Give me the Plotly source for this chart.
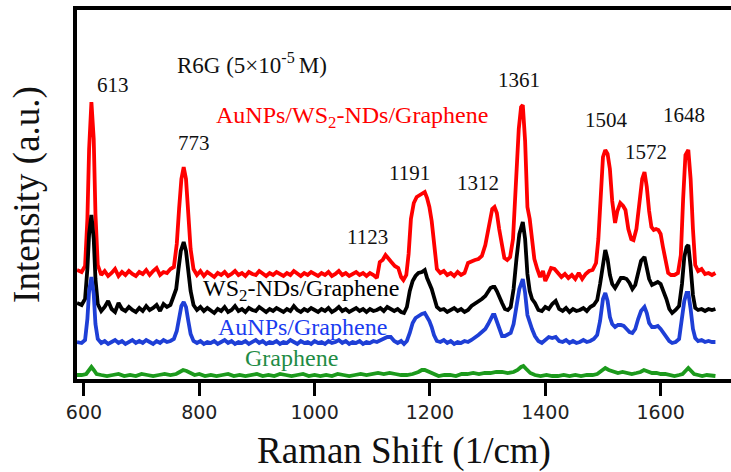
import plotly.graph_objects as go

# (Raman shift in cm^-1, intensity in a.u.) for each substrate
red_pts = [
    (588, 109), (596, 107), (602, 113), (606, 160), (609, 230), (613, 277), (617, 240), (620, 165), (624, 114),
    (630, 104), (636, 108), (642, 103), (648, 106), (654, 110), (660, 103), (666, 107), (672, 104), (678, 108),
    (684, 105), (690, 103), (696, 107), (702, 105), (708, 109), (714, 104), (720, 108), (726, 111), (732, 104),
    (738, 107), (744, 106), (750, 110), (756, 112), (761, 135), (765, 170), (769, 200), (773, 212), (777, 200),
    (781, 165), (785, 130), (790, 110), (796, 104), (802, 108), (808, 103), (814, 107), (820, 105), (826, 102),
    (832, 106), (838, 104), (844, 107), (850, 103), (856, 105), (862, 108), (868, 104), (874, 106), (880, 103),
    (886, 107), (892, 105), (898, 104), (904, 108), (910, 105), (916, 103), (922, 106), (928, 104), (934, 107),
    (940, 105), (946, 103), (952, 106), (958, 104), (964, 108), (970, 105), (976, 103), (982, 106), (988, 104),
    (994, 107), (1000, 105), (1006, 103), (1012, 106), (1018, 104), (1024, 107), (1030, 103), (1036, 105),
    (1042, 108), (1048, 104), (1054, 106), (1060, 103), (1066, 105), (1072, 107), (1078, 104), (1084, 106),
    (1090, 103), (1096, 106), (1102, 104), (1108, 101), (1113, 117), (1118, 119), (1123, 124), (1128, 121),
    (1133, 117), (1139, 113), (1145, 111), (1150, 102), (1154, 99), (1159, 104), (1163, 125), (1167, 160),
    (1172, 176), (1177, 182), (1182, 184), (1186, 186), (1191, 187), (1195, 181), (1199, 172), (1203, 158),
    (1207, 135), (1212, 110), (1218, 106), (1224, 108), (1230, 104), (1236, 106), (1242, 103), (1248, 107),
    (1254, 104), (1260, 106), (1266, 116), (1272, 118), (1278, 119), (1284, 120), (1290, 123), (1296, 134),
    (1301, 150), (1305, 164), (1308, 170), (1312, 172), (1316, 166), (1320, 150), (1324, 138), (1329, 121),
    (1334, 119), (1339, 122), (1344, 140), (1349, 200), (1354, 250), (1358, 272), (1361, 274), (1365, 238),
    (1369, 172), (1373, 160), (1377, 140), (1381, 120), (1386, 110), (1391, 102), (1396, 108), (1400, 98),
    (1405, 104), (1410, 111), (1416, 110), (1422, 106), (1428, 102), (1434, 105), (1440, 101), (1446, 104),
    (1452, 100), (1458, 106), (1464, 100), (1470, 105), (1476, 108), (1482, 109), (1488, 116), (1492, 140),
    (1496, 190), (1500, 222), (1504, 229), (1508, 225), (1512, 210), (1516, 178), (1521, 156), (1525, 168),
    (1530, 176), (1535, 173), (1539, 169), (1544, 150), (1549, 140), (1553, 139), (1558, 150), (1563, 178),
    (1568, 200), (1572, 207), (1576, 192), (1580, 168), (1584, 152), (1588, 149), (1592, 150), (1596, 149),
    (1600, 145), (1604, 132), (1608, 118), (1613, 106), (1618, 104), (1624, 104), (1630, 106), (1635, 124),
    (1639, 180), (1643, 224), (1648, 229), (1652, 200), (1656, 150), (1660, 114), (1665, 108), (1671, 110),
    (1677, 105), (1683, 106), (1689, 104), (1695, 106),
]

black_pts = [
    (588, 76), (596, 74), (602, 80), (606, 110), (609, 145), (613, 164), (617, 140), (620, 100), (624, 75),
    (630, 68), (636, 72), (642, 78), (648, 70), (654, 67), (660, 76), (666, 70), (672, 68), (678, 72), (684, 69),
    (690, 67), (696, 71), (702, 68), (708, 73), (714, 69), (720, 71), (726, 74), (732, 68), (738, 75), (744, 72),
    (750, 74), (755, 82), (760, 90), (764, 110), (768, 128), (773, 137), (777, 128), (781, 108), (785, 88),
    (790, 74), (796, 69), (802, 72), (808, 68), (814, 71), (820, 69), (826, 66), (832, 70), (838, 68), (844, 72),
    (850, 67), (856, 69), (862, 73), (868, 68), (874, 70), (880, 67), (886, 71), (892, 69), (898, 68), (904, 72),
    (910, 69), (916, 67), (922, 70), (928, 68), (934, 71), (940, 69), (946, 67), (952, 70), (958, 68), (964, 73),
    (970, 69), (976, 67), (982, 70), (988, 68), (994, 71), (1000, 69), (1006, 67), (1012, 70), (1018, 68),
    (1024, 71), (1030, 67), (1036, 69), (1042, 72), (1048, 68), (1054, 70), (1060, 67), (1066, 69), (1072, 71),
    (1078, 68), (1084, 70), (1090, 67), (1096, 70), (1102, 68), (1108, 69), (1114, 71), (1120, 68), (1126, 72),
    (1132, 70), (1138, 68), (1144, 70), (1150, 67), (1155, 66), (1160, 72), (1165, 88), (1170, 98), (1175, 103),
    (1180, 106), (1186, 107), (1191, 109), (1195, 101), (1199, 96), (1203, 90), (1207, 82), (1212, 72),
    (1218, 69), (1224, 70), (1230, 67), (1236, 69), (1242, 71), (1248, 68), (1254, 70), (1260, 67), (1266, 69),
    (1272, 73), (1278, 75), (1284, 78), (1290, 80), (1296, 83), (1301, 88), (1305, 91), (1309, 92), (1312, 92),
    (1316, 88), (1320, 82), (1325, 76), (1330, 70), (1335, 69), (1340, 72), (1345, 90), (1350, 120), (1355, 145),
    (1361, 157), (1365, 140), (1369, 105), (1373, 88), (1377, 80), (1382, 76), (1388, 69), (1394, 68),
    (1400, 72), (1406, 70), (1412, 75), (1418, 78), (1424, 70), (1430, 68), (1436, 71), (1442, 67), (1448, 70),
    (1454, 68), (1460, 69), (1466, 71), (1472, 68), (1478, 72), (1484, 74), (1490, 79), (1495, 95), (1500, 118),
    (1504, 129), (1508, 120), (1512, 104), (1516, 95), (1521, 91), (1526, 96), (1531, 101), (1536, 101),
    (1541, 100), (1546, 96), (1551, 90), (1556, 94), (1561, 108), (1566, 118), (1572, 122), (1576, 112),
    (1580, 100), (1585, 94), (1590, 95), (1595, 97), (1600, 95), (1605, 88), (1610, 80), (1615, 70), (1620, 66),
    (1626, 69), (1632, 73), (1637, 95), (1641, 122), (1645, 132), (1648, 134), (1652, 112), (1656, 84),
    (1660, 71), (1665, 69), (1671, 70), (1677, 68), (1683, 70), (1689, 69), (1695, 70),
]

blue_pts = [
    (588, 37), (596, 36), (602, 39), (606, 60), (609, 88), (613, 102), (617, 85), (620, 55), (624, 40),
    (630, 36), (636, 38), (642, 35), (648, 37), (654, 39), (660, 36), (666, 38), (672, 35), (678, 37), (684, 39),
    (690, 36), (696, 38), (702, 36), (708, 39), (714, 37), (720, 35), (726, 38), (732, 36), (738, 39), (744, 37),
    (750, 38), (756, 40), (761, 48), (765, 62), (769, 73), (773, 77), (777, 72), (781, 58), (785, 45), (790, 38),
    (796, 36), (802, 38), (808, 35), (814, 37), (820, 36), (826, 38), (832, 35), (838, 37), (844, 39), (850, 36),
    (856, 38), (862, 35), (868, 37), (874, 36), (880, 38), (886, 35), (892, 37), (898, 39), (904, 36), (910, 38),
    (916, 35), (922, 37), (928, 36), (934, 38), (940, 35), (946, 37), (952, 36), (958, 39), (964, 37), (970, 35),
    (976, 38), (982, 36), (988, 37), (994, 35), (1000, 38), (1006, 36), (1012, 37), (1018, 35), (1024, 38),
    (1030, 36), (1036, 37), (1042, 39), (1048, 36), (1054, 38), (1060, 35), (1066, 37), (1072, 36), (1078, 38),
    (1084, 35), (1090, 37), (1096, 36), (1102, 38), (1108, 37), (1114, 39), (1120, 41), (1126, 42), (1132, 42),
    (1138, 38), (1144, 36), (1150, 38), (1155, 35), (1160, 38), (1165, 46), (1170, 56), (1175, 61), (1180, 63),
    (1186, 65), (1191, 66), (1195, 62), (1199, 58), (1203, 52), (1207, 44), (1212, 38), (1218, 37), (1224, 39),
    (1230, 36), (1236, 38), (1242, 35), (1248, 37), (1254, 36), (1260, 38), (1266, 37), (1272, 39), (1278, 41),
    (1284, 44), (1290, 47), (1296, 50), (1301, 55), (1305, 60), (1309, 64), (1312, 64), (1316, 58), (1320, 50),
    (1325, 43), (1330, 43), (1335, 45), (1340, 46), (1345, 55), (1350, 72), (1355, 90), (1361, 100), (1365, 86),
    (1369, 64), (1373, 56), (1377, 50), (1382, 43), (1388, 38), (1394, 36), (1400, 39), (1406, 42), (1412, 41),
    (1418, 42), (1424, 38), (1430, 37), (1436, 39), (1442, 36), (1448, 38), (1454, 36), (1460, 37), (1466, 39),
    (1472, 37), (1478, 38), (1484, 40), (1490, 44), (1495, 58), (1500, 80), (1504, 86), (1508, 78), (1512, 62),
    (1516, 55), (1521, 52), (1526, 54), (1531, 54), (1536, 53), (1541, 50), (1546, 47), (1551, 46), (1556, 50),
    (1561, 60), (1566, 68), (1572, 72), (1576, 66), (1580, 56), (1585, 52), (1590, 52), (1595, 53), (1600, 50),
    (1605, 46), (1610, 42), (1615, 38), (1620, 36), (1626, 37), (1632, 40), (1637, 58), (1641, 78), (1645, 86),
    (1648, 86), (1652, 70), (1656, 50), (1660, 41), (1665, 38), (1671, 39), (1677, 37), (1683, 38), (1689, 37),
    (1695, 37),
]

green_pts = [
    (588, 4), (596, 4), (604, 5), (609, 9), (613, 12), (617, 9), (622, 5), (630, 4), (640, 3), (650, 4),
    (660, 5), (670, 3), (680, 4), (690, 3), (700, 5), (710, 4), (720, 3), (730, 4), (740, 5), (750, 4),
    (760, 5), (766, 7), (772, 9), (778, 8), (784, 6), (792, 4), (800, 5), (810, 3), (820, 4), (830, 3),
    (840, 4), (850, 5), (860, 3), (870, 4), (880, 3), (890, 4), (900, 5), (910, 3), (920, 4), (930, 3),
    (940, 5), (950, 4), (960, 3), (970, 4), (980, 5), (990, 3), (1000, 4), (1010, 3), (1020, 4), (1030, 3),
    (1040, 5), (1050, 4), (1060, 3), (1070, 4), (1080, 5), (1090, 4), (1100, 5), (1110, 6), (1120, 5),
    (1130, 6), (1140, 5), (1150, 4), (1160, 4), (1170, 5), (1180, 7), (1186, 9), (1191, 9), (1198, 7),
    (1206, 5), (1215, 3), (1225, 4), (1235, 4), (1245, 3), (1255, 5), (1265, 5), (1275, 6), (1285, 5),
    (1295, 6), (1305, 6), (1315, 7), (1325, 7), (1335, 6), (1345, 7), (1352, 9), (1358, 12), (1362, 13),
    (1367, 10), (1374, 6), (1382, 4), (1392, 3), (1402, 4), (1412, 3), (1422, 3), (1432, 4), (1442, 3),
    (1452, 4), (1462, 3), (1472, 4), (1482, 4), (1490, 5), (1497, 8), (1504, 11), (1510, 9), (1518, 7),
    (1526, 6), (1534, 7), (1542, 6), (1550, 5), (1558, 6), (1565, 7), (1571, 9), (1577, 8), (1585, 6),
    (1593, 6), (1600, 5), (1608, 5), (1616, 4), (1624, 3), (1632, 4), (1638, 5), (1643, 8), (1648, 11),
    (1653, 8), (1658, 5), (1665, 4), (1672, 3), (1680, 4), (1688, 3), (1695, 3),
]

series = [
    ("AuNPs/WS<sub>2</sub>-NDs/Graphene", red_pts, "#ff0000"),
    ("WS<sub>2</sub>-NDs/Graphene", black_pts, "#000000"),
    ("AuNPs/Graphene", blue_pts, "#1e3fd6"),
    ("Graphene", green_pts, "#1c9a1c"),
]

# Peak assignments labelled above the top spectrum
peak_labels = ["613", "773", "1123", "1191", "1312", "1361", "1504", "1572", "1648"]
peak_label_px = [(113, 85), (194, 143), (367, 237), (410, 173), (478, 183),
                 (519, 80), (606, 120), (646, 152), (684, 115)]

# Series captions placed next to their spectra
caption_text = ["AuNPs/WS<sub>2</sub>-NDs/Graphene", "WS<sub>2</sub>-NDs/Graphene",
                "AuNPs/Graphene", "Graphene"]
caption_color = ["#ff0000", "#000000", "#1a3cf0", "#1f8c45"]
caption_px = [(352, 117), (301, 290), (302, 327), (291, 358)]

W, H = 731, 472
L, T, B = 77, 10, 93
PW, PH = W - L, H - T - B


def to_paper(px, py):
    return (px - L) / PW, (H - B - py) / PH


serif = "Liberation Serif, Times New Roman, serif"

fig = go.Figure()
for name, pts, col in series:
    xs = [p[0] for p in pts]
    ys = [p[1] for p in pts]
    fig.add_trace(go.Scatter(x=xs, y=ys, mode="lines", name=name,
                             line=dict(color=col, width=3.8), showlegend=False))

annotations = []


def add_text(txt, px, py, size, color):
    ax, ay = to_paper(px, py)
    annotations.append(dict(x=ax, y=ay, xref="paper", yref="paper", text=txt, showarrow=False,
                            xanchor="center", yanchor="middle",
                            font=dict(family=serif, size=size, color=color)))


for txt, (px, py) in zip(peak_labels, peak_label_px):
    add_text(txt, px, py, 21, "#111111")
for txt, col, (px, py) in zip(caption_text, caption_color, caption_px):
    add_text(txt, px, py, 24, col)
add_text("R6G (5×10<sup>-5 </sup>M)", 252, 63, 23, "#111111")

fig.update_layout(
    width=W, height=H,
    margin=dict(l=L, r=0, t=T, b=B),
    paper_bgcolor="white", plot_bgcolor="white",
    annotations=annotations,
    xaxis=dict(range=[588, 1722], tickvals=[600, 800, 1000, 1200, 1400, 1600],
               ticks="outside", ticklen=13, tickwidth=2.5, tickcolor="black",
               showline=True, linewidth=4, linecolor="black", mirror=True,
               showgrid=False, zeroline=False,
               tickfont=dict(family="DejaVu Sans", size=19, color="#222222"),
               title=dict(text="Raman Shift (1/cm)", standoff=18,
                          font=dict(family=serif, size=37, color="#111111"))),
    yaxis=dict(range=[0, PH], showticklabels=False, ticks="",
               showline=True, linewidth=4, linecolor="black",
               showgrid=False, zeroline=False,
               title=dict(text="Intensity (a.u.)", standoff=23,
                          font=dict(family=serif, size=37, color="#111111"))),
)

fig.write_html("out.html")
